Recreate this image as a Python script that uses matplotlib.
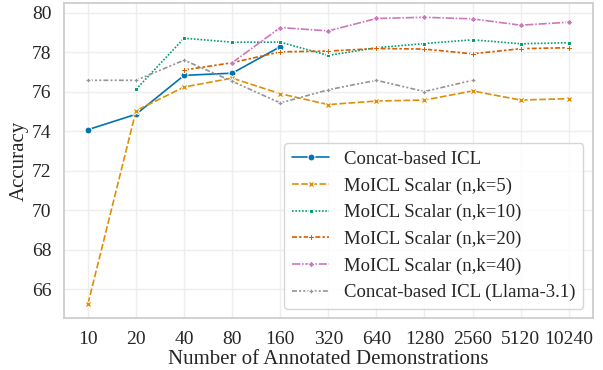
import numpy as np
import pandas as pd
import seaborn as sns
import matplotlib.pyplot as plt

sns.set_theme(style="whitegrid")
plt.rcParams["font.family"] = ["Liberation Serif", "DejaVu Serif"]

demos = ["10", "20", "40", "80", "160", "320", "640", "1280", "2560", "5120", "10240"]
nan = np.nan

concat_icl = [74.07, 74.85, 76.82, 76.93, 78.27, nan, nan, nan, nan, nan, nan]
moicl_k5 = [65.25, 75.03, 76.23, 76.68, 75.89, 75.34, 75.52, 75.57, 76.03, 75.57, 75.64]
moicl_k10 = [nan, 76.11, 78.70, 78.50, 78.50, 77.83, 78.22, 78.43, 78.62, 78.42, 78.47]
moicl_k20 = [nan, nan, 77.09, 77.46, 78.01, 78.05, 78.18, 78.15, 77.91, 78.17, 78.22]
moicl_k40 = [nan, nan, nan, 77.46, 79.24, 79.07, 79.70, 79.76, 79.68, 79.36, 79.51]
concat_llama = [76.57, 76.57, 77.59, 76.52, 75.42, 76.09, 76.57, 76.00, 76.57, nan, nan]

series = {
    "Concat-based ICL": concat_icl,
    "MoICL Scalar (n,k=5)": moicl_k5,
    "MoICL Scalar (n,k=10)": moicl_k10,
    "MoICL Scalar (n,k=20)": moicl_k20,
    "MoICL Scalar (n,k=40)": moicl_k40,
    "Concat-based ICL (Llama-3.1)": concat_llama,
}

cb = sns.color_palette("colorblind")
colors = [cb[0], cb[1], cb[2], cb[3], cb[4], cb[7]]

df = pd.DataFrame(series, index=demos)
df.index.name = "demos"
long_df = df.reset_index().melt(id_vars="demos", var_name="method", value_name="acc").dropna()

fig, ax = plt.subplots(figsize=(6.03, 3.7), dpi=100)

sns.lineplot(
    data=long_df, x="demos", y="acc", hue="method", style="method",
    markers=True, dashes=True, sort=False, ax=ax, palette=colors,
    hue_order=list(series.keys()), style_order=list(series.keys()),
    markersize=5, linewidth=1.2,
)

ax.set_xlabel("Number of Annotated Demonstrations", fontsize=15, labelpad=2)
ax.set_ylabel("Accuracy", fontsize=15, labelpad=2)
ax.tick_params(axis="both", labelsize=14, pad=3)
for s in ax.spines.values():
    s.set_color("#cccccc")
ax.grid(color="#eeeeee")
ax.legend(loc="lower right", fontsize=13.5, handlelength=2.0,
          borderpad=0.4, labelspacing=0.5)

fig.subplots_adjust(left=0.106, right=0.983, top=0.992, bottom=0.14)
plt.savefig("out.png", dpi=100)
